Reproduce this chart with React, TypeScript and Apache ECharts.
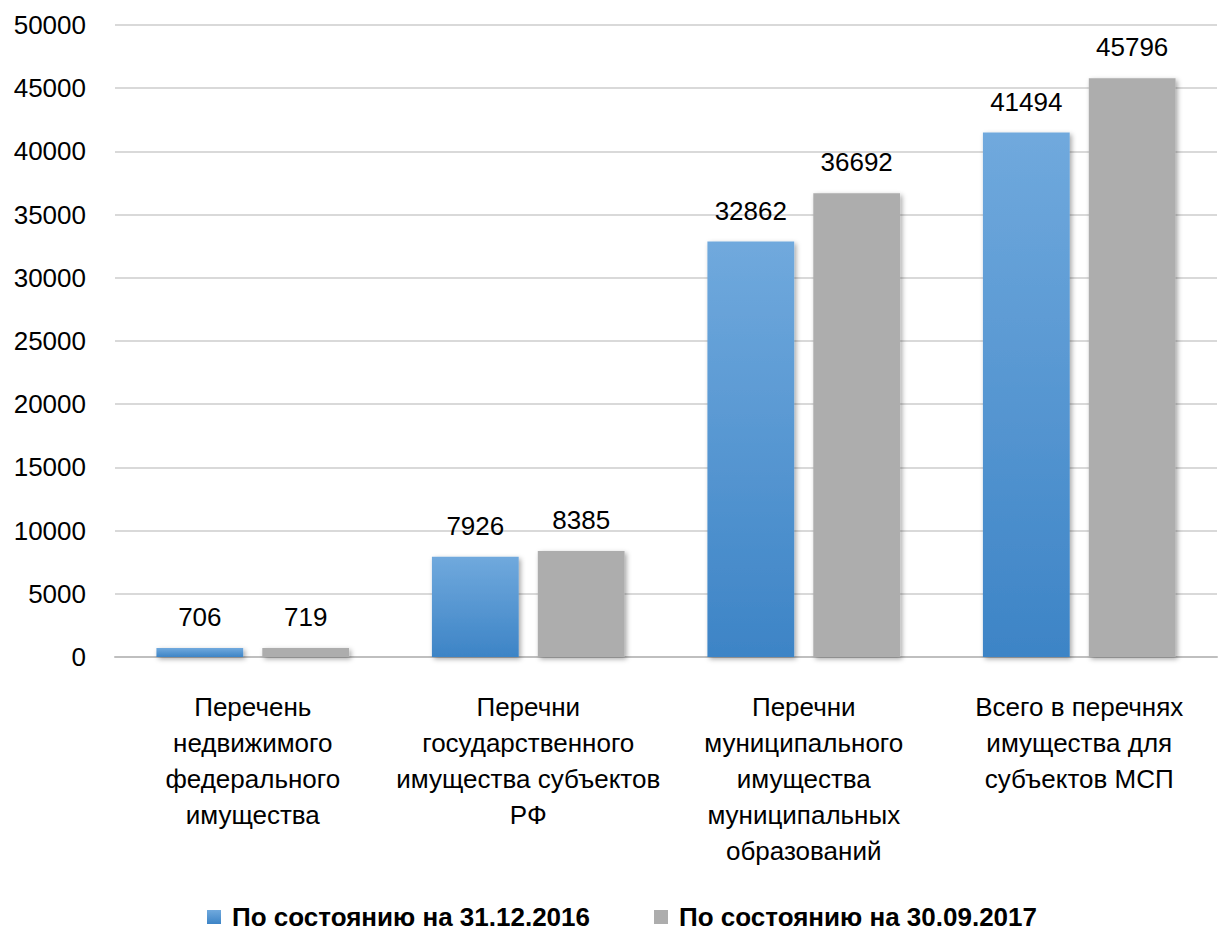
import React, { useEffect, useRef } from "react";
import * as echarts from "echarts";

const categories = [
  "Перечень\nнедвижимого\nфедерального\nимущества",
  "Перечни\nгосударственного\nимущества субъектов\nРФ",
  "Перечни\nмуниципального\nимущества\nмуниципальных\nобразований",
  "Всего в перечнях\nимущества для\nсубъектов МСП",
];
const series2016 = [706, 7926, 32862, 41494];
const series2017 = [719, 8385, 36692, 45796];
const seriesNames = ["По состоянию на 31.12.2016", "По состоянию на 30.09.2017"];

const FONT = "'Liberation Sans', Arial, sans-serif";

export default function App() {
  const ref = useRef<HTMLDivElement>(null);
  useEffect(() => {
    const chart = echarts.init(ref.current!, null, { renderer: "svg" });
    const shadow = {
      shadowBlur: 5,
      shadowOffsetX: 2,
      shadowOffsetY: 2,
      shadowColor: "rgba(0,0,0,0.35)",
    };
    const label = {
      show: true,
      position: "top",
      distance: 18,
      color: "#000",
      fontSize: 26,
      fontFamily: FONT,
    };
    chart.setOption({
      animation: false,
      textStyle: { fontFamily: FONT },
      grid: { left: 115, right: 1, top: 25, bottom: 278 },
      legend: {
        bottom: 0,
        left: 202,
        itemWidth: 14,
        itemHeight: 14,
        itemGap: 64,
        icon: "rect",
        textStyle: {
          fontSize: 26,
          fontWeight: "bold",
          color: "#000",
          fontFamily: FONT,
          padding: [0, 0, 0, 6],
        },
        data: seriesNames,
      },
      xAxis: {
        type: "category",
        data: categories,
        axisLine: { lineStyle: { color: "#bfbfbf", width: 2 } },
        axisTick: { show: false },
        axisLabel: {
          color: "#000",
          fontSize: 26,
          lineHeight: 36,
          margin: 32,
          interval: 0,
          fontFamily: FONT,
        },
      },
      yAxis: {
        type: "value",
        min: 0,
        max: 50000,
        interval: 5000,
        axisLine: { show: false },
        axisTick: { show: false },
        splitLine: { lineStyle: { color: "#d9d9d9", width: 2 } },
        axisLabel: {
          color: "#000",
          fontSize: 26,
          margin: 29,
          fontFamily: FONT,
          formatter: (v: number) => String(v),
        },
      },
      series: [
        {
          name: seriesNames[0],
          type: "bar",
          data: series2016,
          barWidth: "31.5%",
          barGap: "22%",
          itemStyle: {
            color: new echarts.graphic.LinearGradient(0, 0, 0, 1, [
              { offset: 0, color: "#70a9dd" },
              { offset: 1, color: "#3d84c6" },
            ]),
            ...shadow,
          },
          label,
        },
        {
          name: seriesNames[1],
          type: "bar",
          data: series2017,
          barWidth: "31.5%",
          itemStyle: { color: "#adadad", ...shadow },
          label,
        },
      ],
    });
    return () => chart.dispose();
  }, []);
  return (
    <div
      ref={ref}
      style={{ position: "absolute", left: 0, top: 0, width: 1218, height: 935, background: "#fff" }}
    />
  );
}
